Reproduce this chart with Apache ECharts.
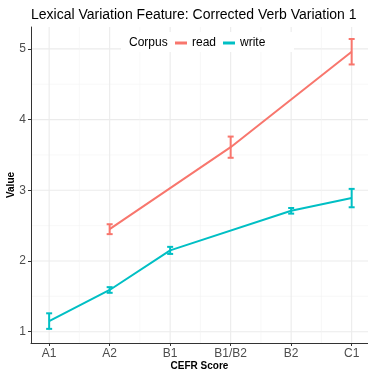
<!DOCTYPE html>
<html>
<head>
<meta charset="utf-8">
<script src="https://cdn.jsdelivr.net/npm/echarts@6/dist/echarts.min.js"></script>
<style>
  html, body { margin: 0; padding: 0; background: #fff; }
  #chart { width: 368px; height: 370px; }
</style>
</head>
<body>
<div id="chart"></div>
<script>
// categories on the x axis
const levels = ['A1', 'A2', 'B1', 'B1/B2', 'B2', 'C1'];

// read corpus: level index, mean, error half-width
const readIdx = [1, 3, 5];
const readMean = [2.45, 3.61, 4.96];
const readErr = [0.07, 0.15, 0.18];

// write corpus
const writeIdx = [0, 1, 2, 4, 5];
const writeMean = [1.15, 1.59, 2.15, 2.71, 2.89];
const writeErr = [0.11, 0.04, 0.05, 0.04, 0.13];

const yTicks = [1, 2, 3, 4, 5];
const yMinor = [1.5, 2.5, 3.5, 4.5];
const xMajor = [0, 1, 2, 3, 4, 5];
const xMinor = [0.5, 1.5, 2.5, 3.5, 4.5];

const RED = '#F8766D';
const CYAN = '#00BFC4';
const font = 'Liberation Sans, Arial, sans-serif';

function pairs(idx, vals) {
    return idx.map((x, i) => [x, vals[i]]);
}

function errData(idx, mean, err) {
    return idx.map((x, i) => [x, mean[i] - err[i], mean[i] + err[i]]);
}

function errSeries(name, data, color) {
    return {
        name: name,
        type: 'custom',
        z: 3,
        silent: true,
        data: data,
        renderItem: function (params, api) {
            const lo = api.coord([api.value(0), api.value(1)]);
            const hi = api.coord([api.value(0), api.value(2)]);
            const w = 3;
            const style = {stroke: color, lineWidth: 2, fill: null};
            return {
                type: 'group',
                children: [
                    {type: 'line', shape: {x1: lo[0], y1: lo[1], x2: hi[0], y2: hi[1]}, style: style},
                    {type: 'line', shape: {x1: lo[0] - w, y1: lo[1], x2: lo[0] + w, y2: lo[1]}, style: style},
                    {type: 'line', shape: {x1: hi[0] - w, y1: hi[1], x2: hi[0] + w, y2: hi[1]}, style: style}
                ]
            };
        }
    };
}

// grid lines: [direction (0 = horizontal, 1 = vertical), value, major flag]
const gridData = [];
yTicks.forEach(v => gridData.push([0, v, 1]));
yMinor.forEach(v => gridData.push([0, v, 0]));
xMajor.forEach(v => gridData.push([1, v, 1]));
xMinor.forEach(v => gridData.push([1, v, 0]));

const option = {
    animation: false,
    backgroundColor: '#fff',
    textStyle: {fontFamily: font},
    title: {
        text: 'Lexical Variation Feature: Corrected Verb Variation 1',
        left: 26,
        top: 3,
        textStyle: {fontSize: 14, fontWeight: 'normal', color: '#000', fontFamily: font}
    },
    graphic: [
        {type: 'rect', left: 121, top: 32, shape: {width: 173, height: 20}, style: {fill: '#fff'}, z: 10},
        {type: 'text', left: 129, top: 37, style: {text: 'Corpus', fontSize: 12, fill: '#000', fontFamily: font}, z: 11}
    ],
    legend: {
        data: ['read', 'write'],
        left: 170,
        top: 32,
        itemWidth: 12,
        itemHeight: 3,
        itemGap: 7,
        icon: 'rect',
        z: 12,
        textStyle: {fontSize: 12, color: '#000', fontFamily: font}
    },
    grid: {left: 31, right: 0, top: 27, bottom: 27, outerBoundsMode: 'none', containLabel: false},
    xAxis: {
        type: 'value',
        min: -0.3,
        max: 5.27,
        name: 'CEFR Score',
        nameLocation: 'middle',
        nameGap: 18,
        nameMoveOverlap: false,
        nameTextStyle: {fontSize: 10, fontWeight: 'bold', color: '#000', fontFamily: font},
        axisLine: {show: true, onZero: false, lineStyle: {color: '#333', width: 1}},
        axisTick: {show: true, customValues: xMajor, length: 3, lineStyle: {color: '#333'}},
        axisLabel: {
            customValues: xMajor,
            fontSize: 12,
            color: '#4d4d4d',
            margin: 5,
            formatter: v => levels[Math.round(v)]
        },
        splitLine: {show: false}
    },
    yAxis: {
        type: 'value',
        min: 0.84,
        max: 5.31,
        name: 'Value',
        nameLocation: 'middle',
        nameGap: 15,
        nameMoveOverlap: false,
        nameTextStyle: {fontSize: 10, fontWeight: 'bold', color: '#000', fontFamily: font},
        axisLine: {show: true, onZero: false, lineStyle: {color: '#333', width: 1}},
        axisTick: {show: true, customValues: yTicks, length: 3, lineStyle: {color: '#333'}},
        axisLabel: {customValues: yTicks, fontSize: 12, color: '#4d4d4d', margin: 5},
        splitLine: {show: false}
    },
    series: [
        {
            name: 'gridlines',
            type: 'custom',
            silent: true,
            z: 0,
            data: gridData,
            encode: {x: [], y: []},
            renderItem: function (params, api) {
                const cs = params.coordSys;
                const dir = api.value(0);
                const v = api.value(1);
                const major = api.value(2) === 1;
                const style = {stroke: major ? '#ebebeb' : '#f3f3f3', lineWidth: major ? 1.1 : 0.6};
                if (dir === 0) {
                    const y = api.coord([0, v])[1];
                    return {type: 'line', shape: {x1: cs.x, y1: y, x2: cs.x + cs.width, y2: y}, style: style};
                }
                const x = api.coord([v, 1])[0];
                return {type: 'line', shape: {x1: x, y1: cs.y, x2: x, y2: cs.y + cs.height}, style: style};
            }
        },
        {
            name: 'read',
            type: 'line',
            data: pairs(readIdx, readMean),
            showSymbol: false,
            color: RED,
            lineStyle: {width: 2, color: RED},
            z: 4
        },
        {
            name: 'write',
            type: 'line',
            data: pairs(writeIdx, writeMean),
            showSymbol: false,
            color: CYAN,
            lineStyle: {width: 2, color: CYAN},
            z: 4
        },
        errSeries('read', errData(readIdx, readMean, readErr), RED),
        errSeries('write', errData(writeIdx, writeMean, writeErr), CYAN)
    ]
};

const chart = echarts.init(document.getElementById('chart'));
chart.setOption(option);
</script>
</body>
</html>
